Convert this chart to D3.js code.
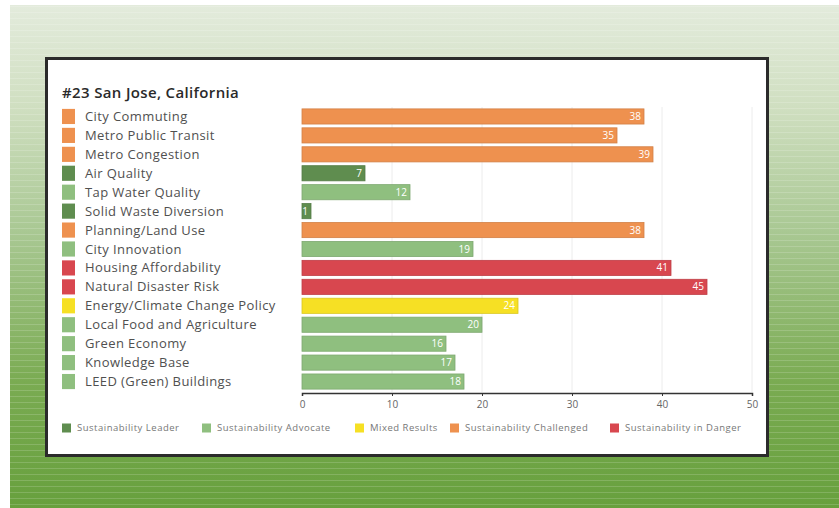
<!DOCTYPE html>
<html>
<head>
<meta charset="utf-8">
<script src="https://cdn.jsdelivr.net/npm/d3@7"></script>
<style>
  html, body { margin: 0; padding: 0; background: #ffffff; }
  svg { display: block; }
  text { font-family: "Open Sans", "Noto Sans", sans-serif; }
</style>
</head>
<body>
<svg id="chart" width="839" height="508"></svg>
<script>
// Sustainability scores, one row per category
const categories = [
  "City Commuting", "Metro Public Transit", "Metro Congestion", "Air Quality",
  "Tap Water Quality", "Solid Waste Diversion", "Planning/Land Use", "City Innovation",
  "Housing Affordability", "Natural Disaster Risk", "Energy/Climate Change Policy",
  "Local Food and Agriculture", "Green Economy", "Knowledge Base", "LEED (Green) Buildings"
];
const values = [38, 35, 39, 7, 12, 1, 38, 19, 41, 45, 24, 20, 16, 17, 18];
const groups = [
  "challenged", "challenged", "challenged", "leader",
  "advocate", "leader", "challenged", "advocate",
  "danger", "danger", "mixed",
  "advocate", "advocate", "advocate", "advocate"
];
const groupKeys = ["leader", "advocate", "mixed", "challenged", "danger"];
const groupLabels = [
  "Sustainability Leader", "Sustainability Advocate", "Mixed Results",
  "Sustainability Challenged", "Sustainability in Danger"
];
const tickValues = [0, 10, 20, 30, 40, 50];
const title = "#23 San Jose, California";

const color = d3.scaleOrdinal()
  .domain(groupKeys)
  .range(["#5f8d4f", "#8fbf7f", "#f6e024", "#ee914f", "#d8474f"]);

const svg = d3.select("#chart");
const defs = svg.append("defs");

// Backdrop: pale-to-deep green gradient with faint horizontal rules
const grad = defs.append("linearGradient")
  .attr("id", "bg").attr("x1", 0).attr("y1", 0).attr("x2", 0).attr("y2", 1);
[[0, "#e3ebdc"], [0.2, "#d0dfc1"], [0.45, "#a9c893"], [0.75, "#7aab52"], [1, "#67a03d"]]
  .forEach(([o, c]) => grad.append("stop").attr("offset", o).attr("stop-color", c));

const pat = defs.append("pattern")
  .attr("id", "rules").attr("patternUnits", "userSpaceOnUse")
  .attr("width", 10).attr("height", 6);
pat.append("rect").attr("x", 0).attr("y", 0).attr("width", 10).attr("height", 1)
  .attr("fill", "#ffffff").attr("opacity", 0.16);

svg.append("rect").attr("x", 10).attr("y", 5).attr("width", 829).attr("height", 503)
  .attr("fill", "url(#bg)");
svg.append("rect").attr("x", 10).attr("y", 5).attr("width", 829).attr("height", 503)
  .attr("fill", "url(#rules)");

// White card
svg.append("rect")
  .attr("x", 46.5).attr("y", 58.5).attr("width", 721).attr("height", 397)
  .attr("fill", "#ffffff").attr("stroke", "#2b2b2b").attr("stroke-width", 3);

// Title
svg.append("text")
  .attr("x", 62).attr("y", 98)
  .attr("font-size", 15).attr("font-weight", 600).attr("fill", "#2a2a2a")
  .attr("letter-spacing", 0.35)
  .text(title);

// Scales
const x = d3.scaleLinear().domain([0, 50]).range([302, 752]);
const y = d3.scaleBand().domain(categories).range([107, 391]).paddingInner(0.2).paddingOuter(0.1);

// Gridlines
svg.append("g")
  .selectAll("line")
  .data(tickValues.slice(1))
  .join("line")
  .attr("x1", d => x(d)).attr("x2", d => x(d))
  .attr("y1", 107).attr("y2", 392)
  .attr("stroke", "#ececec").attr("stroke-width", 1);

const rows = categories.map((c, i) => ({ cat: c, value: values[i], group: groups[i] }));

// Category key column: swatch + name
const key = svg.append("g");
key.selectAll("rect")
  .data(rows)
  .join("rect")
  .attr("x", 62).attr("width", 13)
  .attr("y", d => y(d.cat)).attr("height", y.bandwidth())
  .attr("fill", d => color(d.group));
key.selectAll("text")
  .data(rows)
  .join("text")
  .attr("x", 85)
  .attr("y", d => y(d.cat) + y.bandwidth() / 2)
  .attr("dy", "0.35em")
  .attr("font-size", 13).attr("fill", "#505050")
  .attr("letter-spacing", 0.4)
  .text(d => d.cat);

// Bars
const bars = svg.append("g");
bars.selectAll("rect")
  .data(rows)
  .join("rect")
  .attr("x", x(0))
  .attr("y", d => y(d.cat))
  .attr("width", d => x(d.value) - x(0))
  .attr("height", y.bandwidth())
  .attr("fill", d => color(d.group))
  .attr("stroke", d => d3.color(color(d.group)).darker(0.35))
  .attr("stroke-width", 0.8);

// Value labels inside bar ends
bars.selectAll("text")
  .data(rows)
  .join("text")
  .attr("x", d => x(d.value) - 3)
  .attr("y", d => y(d.cat) + y.bandwidth() / 2)
  .attr("dy", "0.35em")
  .attr("text-anchor", "end")
  .attr("font-size", 10).attr("fill", "#ffffff")
  .text(d => d.value);

// X axis
const axis = svg.append("g")
  .attr("transform", "translate(0,393)")
  .call(d3.axisBottom(x).tickValues(tickValues).tickSize(3).tickPadding(5));
axis.select(".domain").attr("stroke", "#333").attr("stroke-width", 1.5);
axis.selectAll(".tick line").attr("stroke", "#333");
axis.selectAll(".tick text")
  .attr("font-size", 10).attr("fill", "#666")
  .attr("font-family", "'Open Sans', sans-serif");

// Group legend
const legendX = [62, 202, 355, 450, 610];
const legend = svg.append("g");
const items = legend.selectAll("g")
  .data(groupKeys)
  .join("g")
  .attr("transform", (d, i) => `translate(${legendX[i]},428)`);
items.append("rect")
  .attr("x", 0).attr("y", -4.5).attr("width", 9).attr("height", 9)
  .attr("fill", d => color(d));
items.append("text")
  .attr("x", 15).attr("y", 0).attr("dy", "0.35em")
  .attr("font-size", 9.5).attr("fill", "#777")
  .attr("letter-spacing", 0.5)
  .text((d, i) => groupLabels[i]);
</script>
</body>
</html>
